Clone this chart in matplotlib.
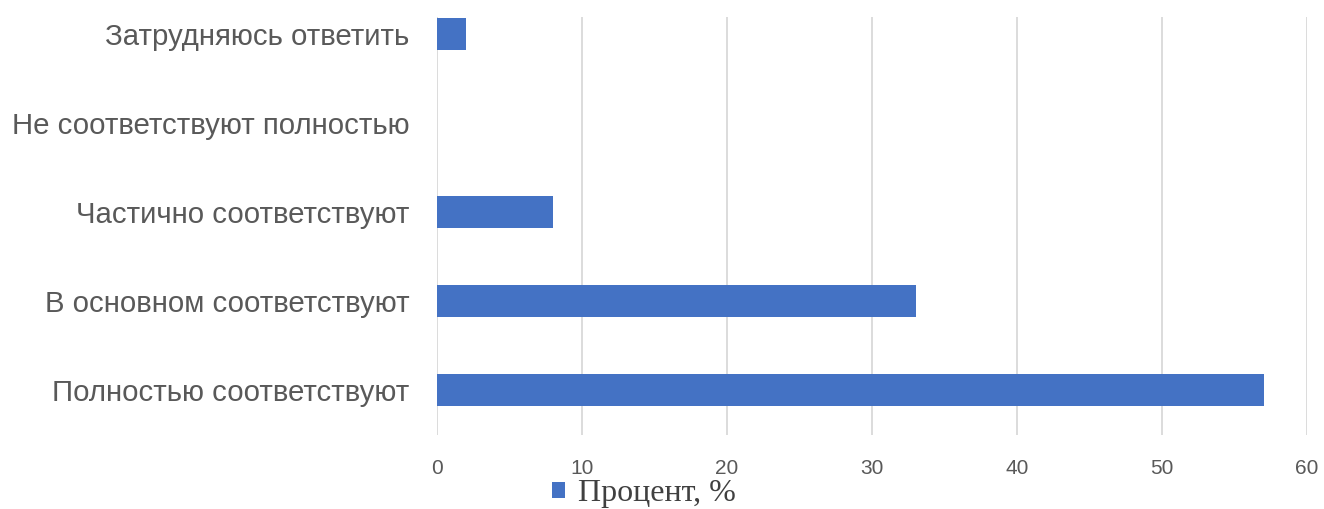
import matplotlib.pyplot as plt
from matplotlib.patches import Patch

# данные
categories = ['Полностью соответствуют', 'В основном соответствуют',
              'Частично соответствуют', 'Не соответствуют полностью',
              'Затрудняюсь ответить']
values = [57, 33, 8, 0, 2]
xticks = [0, 10, 20, 30, 40, 50, 60]
legend_label = 'Процент, %'

W, H = 1324, 509
fig = plt.figure(figsize=(W / 100, H / 100), dpi=100)
ax = fig.add_axes([437 / W, 1 - 435 / H, (1307 - 437) / W, (435 - 17) / H])

pos = list(range(len(categories)))
ax.barh(pos, values, height=0.36, color='#4472C4', zorder=3)

ax.set_xlim(0, 60)
ax.set_ylim(-0.506, 4.19)
ax.set_xticks(xticks)
ax.set_yticks(pos)
ax.set_yticklabels(categories, fontsize=21.2, color='#595959', family='Liberation Sans')
ax.set_xticklabels([str(t) for t in xticks], fontsize=15, color='#595959', family='Liberation Sans')
ax.tick_params(axis='both', length=0)
ax.tick_params(axis='y', pad=20)
ax.tick_params(axis='x', pad=17)

ax.grid(axis='x', color='#d9d9d9', linewidth=1.3, zorder=0)
for s in ax.spines.values():
    s.set_visible(False)

handle = Patch(facecolor='#4472C4', edgecolor='none')
fig.legend([handle], [legend_label], loc='center', bbox_to_anchor=(644 / W, 1 - 494 / H),
           frameon=False, prop={'family': 'Liberation Serif', 'size': 23},
           handlelength=0.4, handleheight=0.4, handletextpad=0.4, labelcolor='#404040')

fig.savefig('out.png', dpi=100)
